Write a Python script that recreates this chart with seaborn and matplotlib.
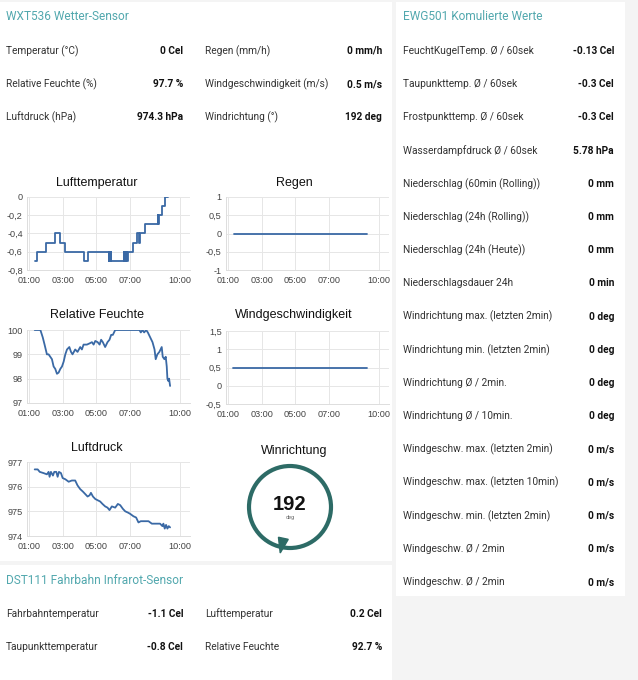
import numpy as np
import pandas as pd
import seaborn as sns
import matplotlib.pyplot as plt
from matplotlib.patches import Rectangle, Circle, Polygon

W, H = 638, 680

# --- table texts ---
wxt_title = 'WXT536 Wetter-Sensor'
wxt_labels_l = ['Temperatur (°C)', 'Relative Feuchte (%)', 'Luftdruck (hPa)']
wxt_values_l = ['0 Cel', '97.7 %', '974.3 hPa']
wxt_labels_r = ['Regen (mm/h)', 'Windgeschwindigkeit (m/s)', 'Windrichtung (°)']
wxt_values_r = ['0 mm/h', '0.5 m/s', '192 deg']

ewg_title = 'EWG501 Komulierte Werte'
ewg_labels = ['FeuchtKugelTemp. Ø / 60sek', 'Taupunkttemp. Ø / 60sek',
              'Frostpunkttemp. Ø / 60sek', 'Wasserdampfdruck Ø / 60sek',
              'Niederschlag (60min (Rolling))', 'Niederschlag (24h (Rolling))',
              'Niederschlag (24h (Heute))', 'Niederschlagsdauer 24h',
              'Windrichtung max. (letzten 2min)', 'Windrichtung min. (letzten 2min)',
              'Windrichtung Ø / 2min.', 'Windrichtung Ø / 10min.',
              'Windgeschw. max. (letzten 2min)', 'Windgeschw. max. (letzten 10min)',
              'Windgeschw. min. (letzten 2min)', 'Windgeschw. Ø / 2min',
              'Windgeschw. Ø / 2min']
ewg_values = ['-0.13 Cel', '-0.3 Cel', '-0.3 Cel', '5.78 hPa', '0 mm', '0 mm',
              '0 mm', '0 min', '0 deg', '0 deg', '0 deg', '0 deg', '0 m/s',
              '0 m/s', '0 m/s', '0 m/s', '0 m/s']

dst_title = 'DST111 Fahrbahn Infrarot-Sensor'
dst_labels_l = ['Fahrbahntemperatur', 'Taupunkttemperatur']
dst_values_l = ['-1.1 Cel', '-0.8 Cel']
dst_labels_r = ['Lufttemperatur', 'Relative Feuchte']
dst_values_r = ['0.2 Cel', '92.7 %']

# --- chart data (hours of day) ---
tick_hours = [1, 3, 5, 7, 10]
tick_labels = ['01:00', '03:00', '05:00', '07:00', '10:00']

lt_hours = [1.36, 1.46, 1.99, 2.55, 2.81, 3.15, 4.28, 4.48, 5.73, 5.77, 5.81,
            5.85, 5.89, 6.63, 6.67, 6.71, 6.75, 6.80, 6.85, 6.89, 7.18, 7.46,
            7.58, 7.61, 7.92, 8.66, 8.69, 8.73, 8.91, 9.11, 9.31]
lt_values = [-0.7, -0.6, -0.5, -0.4, -0.5, -0.6, -0.7, -0.6, -0.7, -0.6, -0.7,
             -0.6, -0.7, -0.6, -0.7, -0.6, -0.7, -0.6, -0.7, -0.6, -0.5, -0.4,
             -0.5, -0.4, -0.3, -0.2, -0.3, -0.2, -0.1, 0.0, 0.0]

rain_hours = [1.32, 9.31]
rain_values = [0, 0]

rh_hours = [1.32, 1.66, 1.80, 1.91, 2.05, 2.15, 2.25, 2.35, 2.45, 2.55, 2.65,
            2.75, 2.85, 2.95, 3.05, 3.15, 3.25, 3.39, 3.49, 3.58, 3.74, 3.88,
            4.04, 4.14, 4.24, 4.44, 4.60, 4.74, 4.84, 4.94, 5.08, 5.20, 5.29,
            5.39, 5.53, 5.67, 5.79, 5.89, 5.99, 6.13, 7.58, 7.66, 7.76, 7.86,
            7.98, 8.08, 8.22, 8.36, 8.48, 8.55, 8.65, 8.77, 8.91, 8.97, 9.07,
            9.15, 9.21, 9.25, 9.31, 9.35, 9.41]
rh_values = [100, 100, 99.7, 99.4, 99.0, 99.0, 98.9, 98.8, 98.5, 98.4, 98.2,
             98.25, 98.4, 98.5, 98.7, 99.0, 99.2, 99.3, 99.1, 99.0, 99.2, 99.1,
             99.3, 99.2, 99.4, 99.4, 99.45, 99.5, 99.4, 99.55, 99.5, 99.4, 99.6,
             99.5, 99.3, 99.5, 99.6, 99.8, 99.8, 100, 100, 99.9, 100, 99.9,
             100, 99.9, 99.7, 99.5, 99.2, 98.8, 99.0, 99.1, 99.3, 98.9, 98.8,
             98.9, 98.5, 98.0, 97.9, 98.0, 97.7]

wind_hours = [1.26, 9.31]
wind_values = [0.5, 0.5]

p_hours = [1.32, 1.50, 1.62, 1.85, 2.05, 2.15, 2.21, 2.29, 2.41, 2.49, 2.61,
           2.69, 2.77, 2.89, 2.99, 3.15, 3.35, 3.54, 3.74, 3.88, 4.04, 4.20,
           4.34, 4.48, 4.60, 4.68, 4.80, 4.94, 5.08, 5.23, 5.37, 5.53, 5.67,
           5.79, 5.93, 6.13, 6.29, 6.43, 6.59, 6.73, 6.89, 7.02, 7.22, 7.38,
           7.52, 7.66, 7.86, 8.12, 8.32, 8.61, 8.81, 8.95, 9.01, 9.09, 9.17,
           9.25, 9.33, 9.41]
p_values = [976.7, 976.7, 976.6, 976.55, 976.5, 976.6, 976.4, 976.6, 976.45,
            976.6, 976.6, 976.4, 976.6, 976.55, 976.35, 976.3, 976.2, 976.25,
            976.25, 976.05, 975.9, 975.8, 975.7, 975.6, 975.65, 975.75, 975.6,
            975.5, 975.45, 975.4, 975.3, 975.2, 975.15, 975.05, 975.2, 975.15,
            975.3, 975.25, 975.1, 975.0, 974.95, 974.9, 974.8, 974.75, 974.55,
            974.6, 974.6, 974.6, 974.5, 974.5, 974.5, 974.4, 974.5, 974.3,
            974.45, 974.3, 974.4, 974.35]

wind_dir = 192

# --- style ---
sns.set_theme(style='white')
plt.rcParams['font.family'] = ['Roboto', 'DejaVu Sans']

BG = '#f4f4f4'
HEAD = '#52a8ae'
LINE = '#3a69a5'
RING = '#2d6b66'
LABEL = '#333333'
VALUE = '#111111'
CHARTFONT = ['Liberation Sans', 'DejaVu Sans']

fig = plt.figure(figsize=(W / 100, H / 100), dpi=100)
fig.patch.set_facecolor(BG)


def fx(x):
    return x / W


def fy(y):
    return 1 - y / H


def panel(x0, y0, x1, y1):
    fig.patches.append(Rectangle((fx(x0), fy(y1)), (x1 - x0) / W, (y1 - y0) / H,
                                 transform=fig.transFigure, facecolor='white',
                                 edgecolor='none', zorder=-5))


def txt(x, y, s, **kw):
    kw.setdefault('fontsize', 7.3)
    kw.setdefault('color', LABEL)
    fig.text(fx(x), fy(y), s, va='center', **kw)


def val(x, y, s):
    txt(x, y, s, ha='right', fontweight='bold', color=VALUE)


panel(0, 2, 392, 561)
panel(0, 565, 392, 680)
panel(396, 2, 625, 596)

# headers
txt(6, 16, wxt_title, fontsize=8.6, color=HEAD)
txt(403, 16, ewg_title, fontsize=8.6, color=HEAD)
txt(6, 580, dst_title, fontsize=8.6, color=HEAD)

# WXT table
for i in range(len(wxt_labels_l)):
    y = 51 + i * 33
    txt(6, y, wxt_labels_l[i])
    val(183, y, wxt_values_l[i])
    txt(205, y, wxt_labels_r[i])
    val(382, y, wxt_values_r[i])

# EWG table
for i in range(len(ewg_labels)):
    y = 51 + i * 33.2
    txt(403, y, ewg_labels[i])
    val(614, y, ewg_values[i])

# DST table
for i in range(len(dst_labels_l)):
    y = 614 + i * 33.5
    txt(6, y, dst_labels_l[i])
    val(183, y, dst_values_l[i])
    txt(205, y, dst_labels_r[i])
    val(382, y, dst_values_r[i])


def chart(rect, title, title_xy, hours, values, yticks, ylabels, steps=False):
    l, t, r, b = rect
    ax = fig.add_axes([fx(l), fy(b), (r - l) / W, (b - t) / H])
    kw = dict(drawstyle='steps-post') if steps else {}
    sns.lineplot(x=hours, y=values, ax=ax, color=LINE, linewidth=1.3,
                 estimator=None, sort=False, **kw)
    ax.set_xlim(0.86, 10.6)
    ax.set_ylim(min(yticks), max(yticks))
    ax.set_xticks(tick_hours)
    ax.set_xticklabels(tick_labels)
    ax.set_yticks(yticks)
    ax.set_yticklabels(ylabels)
    ax.tick_params(length=0, labelsize=6.6, colors='#444444')
    ax.tick_params(axis='y', pad=3)
    ax.tick_params(axis='x', pad=4.5)
    for lab in ax.get_xticklabels() + ax.get_yticklabels():
        lab.set_family(CHARTFONT)
    ax.grid(True, color='#e6e6e6', linewidth=0.7)
    ax.set_facecolor('none')
    for s in ['top', 'right']:
        ax.spines[s].set_visible(False)
    for s in ['left', 'bottom']:
        ax.spines[s].set_color('#dddddd')
        ax.spines[s].set_linewidth(0.7)
    ax.set_xlabel('')
    ax.set_ylabel('')
    fig.text(fx(title_xy[0]), fy(title_xy[1]), title, ha='center', va='center',
             fontsize=9, color='#111111', family=CHARTFONT)
    return ax


chart((27, 197, 190, 270), 'Lufttemperatur', (97, 183), lt_hours, lt_values,
      [-0.8, -0.6, -0.4, -0.2, 0], ['-0,8', '-0,6', '-0,4', '-0,2', '0'], steps=True)
chart((226, 197, 389, 270), 'Regen', (294, 183), rain_hours, rain_values,
      [-1, -0.5, 0, 0.5, 1], ['-1', '-0,5', '0', '0,5', '1'])
chart((27, 330, 190, 403), 'Relative Feuchte', (97, 315), rh_hours, rh_values,
      [97, 98, 99, 100], ['97', '98', '99', '100'])
chart((226, 331, 389, 404), 'Windgeschwindigkeit', (294, 315), wind_hours, wind_values,
      [-0.5, 0, 0.5, 1, 1.5], ['-0,5', '0', '0,5', '1', '1,5'])
chart((27, 462, 190, 536), 'Luftdruck', (97, 448), p_hours, p_values,
      [974, 975, 976, 977], ['974', '975', '976', '977'])

# wind direction gauge (pixel units, y down)
gx0, gy0, gx1, gy1 = 230, 455, 350, 570
gax = fig.add_axes([fx(gx0), fy(gy1), (gx1 - gx0) / W, (gy1 - gy0) / H])
gax.set_xlim(gx0, gx1)
gax.set_ylim(gy1, gy0)
gax.axis('off')
cx, cy, rad = 290, 507, 41
gax.add_patch(Circle((cx, cy), rad, fill=False, edgecolor=RING, linewidth=3))
ang = np.deg2rad(wind_dir)
ux, uy = np.sin(ang), -np.cos(ang)   # direction in pixel coords (y down)
tip = (cx + ux * (rad + 6), cy + uy * (rad + 6))
bc = (cx + ux * (rad - 9), cy + uy * (rad - 9))
nx, ny = -uy, ux
tri = [tip, (bc[0] + nx * 5, bc[1] + ny * 5), (bc[0] - nx * 5, bc[1] - ny * 5)]
gax.add_patch(Polygon(tri, closed=True, facecolor=RING, edgecolor=RING))
gax.text(cx, cy - 3, str(wind_dir), ha='center', va='center', fontsize=14.5,
         fontweight='bold', color='#111111', family=CHARTFONT)
gax.text(cx, cy + 10, 'deg', ha='center', va='center', fontsize=4, color='#666666')
fig.text(fx(294), fy(451), 'Winrichtung', ha='center', va='center', fontsize=9,
         color='#111111', family=CHARTFONT)

fig.savefig('out.png', dpi=100, facecolor=BG)
